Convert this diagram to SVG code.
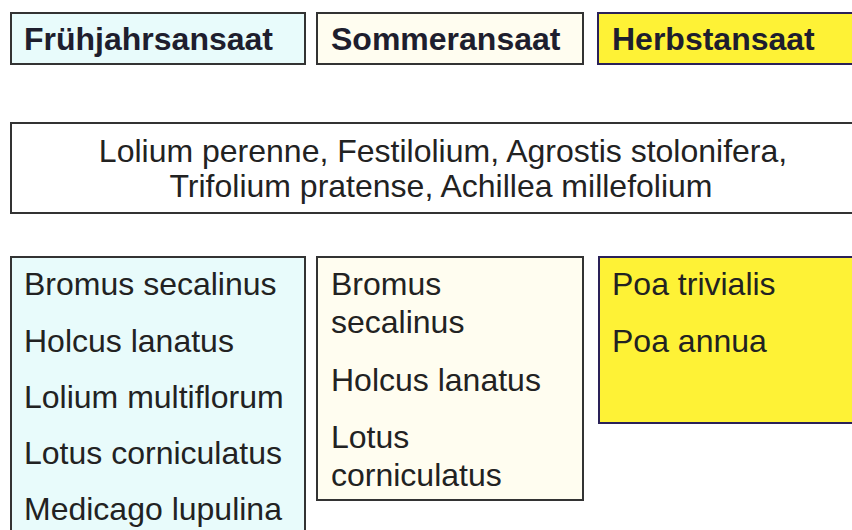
<svg xmlns="http://www.w3.org/2000/svg" width="852" height="530" viewBox="0 0 852 530">
<style>
.box{stroke:#333;stroke-width:2}
.spring{fill:#e8fbfb}
.summer{fill:#fffdf0}
.autumn{fill:#fef236;stroke:#2a2158}
.plain{fill:#fff}
.hd{font-family:"Liberation Sans",Arial,sans-serif;font-weight:bold;font-size:32px;fill:#1e1e2e}
.tx{font-family:"Liberation Sans",Arial,sans-serif;font-size:32px;fill:#222}
</style>
<rect width="852" height="530" fill="#fff"/>
<g id="head-spring">
<rect class="box spring" x="11" y="13" width="294" height="51"/>
<text class="hd" x="24" y="50">Frühjahrsansaat</text>
</g>
<g id="head-summer">
<rect class="box summer" x="317" y="13" width="266" height="51"/>
<text class="hd" x="331" y="50">Sommeransaat</text>
</g>
<g id="head-autumn">
<rect class="box autumn" x="598" y="13" width="270" height="51"/>
<text class="hd" x="612" y="50" fill="#2a1f4e">Herbstansaat</text>
</g>
<g id="common">
<rect class="box plain" x="11" y="123" width="860" height="90"/>
<text class="tx" text-anchor="middle"><tspan x="443" y="162">Lolium perenne, Festilolium, Agrostis stolonifera,</tspan><tspan x="441" y="197">Trifolium pratense, Achillea millefolium</tspan></text>
</g>
<g id="list-spring">
<rect class="box spring" x="11" y="257" width="294" height="290"/>
<text class="tx"><tspan x="24" y="295">Bromus secalinus</tspan><tspan x="24" y="352">Holcus lanatus</tspan><tspan x="24" y="408">Lolium multiflorum</tspan><tspan x="24" y="464">Lotus corniculatus</tspan><tspan x="24" y="520">Medicago lupulina</tspan></text>
</g>
<g id="list-summer">
<rect class="box summer" x="317" y="257" width="266" height="243"/>
<text class="tx"><tspan x="331" y="295">Bromus</tspan><tspan x="331" y="333">secalinus</tspan><tspan x="331" y="391">Holcus lanatus</tspan><tspan x="331" y="448">Lotus</tspan><tspan x="331" y="486">corniculatus</tspan></text>
</g>
<g id="list-autumn">
<rect class="box autumn" x="599" y="257" width="270" height="166"/>
<text class="tx"><tspan x="612" y="295">Poa trivialis</tspan><tspan x="612" y="352">Poa annua</tspan></text>
</g>
<g id="connectors"></g>
</svg>
